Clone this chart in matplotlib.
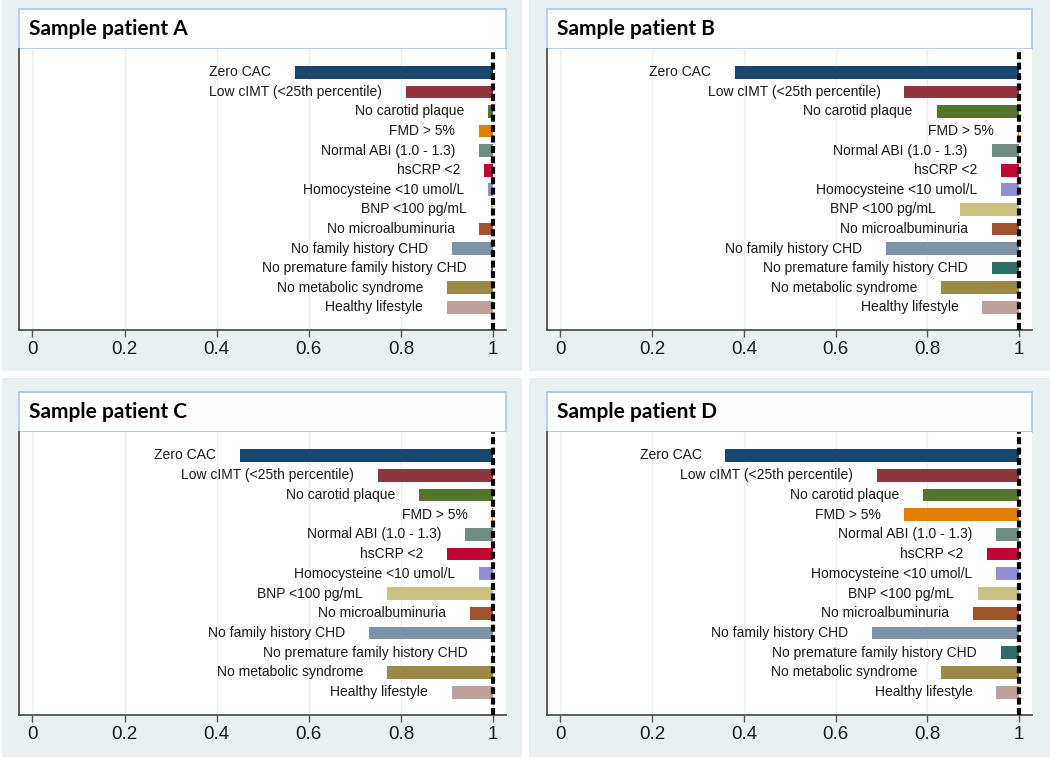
import numpy as np
import matplotlib.pyplot as plt
from matplotlib.patches import Rectangle

plt.rcParams['font.family'] = ['Liberation Sans', 'DejaVu Sans']
plt.rcParams['lines.scale_dashes'] = False

categories = ["Zero CAC", "Low cIMT (<25th percentile)", "No carotid plaque", "FMD > 5%",
              "Normal ABI (1.0 - 1.3)", "hsCRP <2", "Homocysteine <10 umol/L", "BNP <100 pg/mL",
              "No microalbuminuria", "No family history CHD", "No premature family history CHD",
              "No metabolic syndrome", "Healthy lifestyle"]

patient_a = [0.57, 0.81, 0.99, 0.97, 0.97, 0.98, 0.99, 0.995, 0.97, 0.91, 0.995, 0.90, 0.90]
patient_b = [0.38, 0.75, 0.82, 0.997, 0.94, 0.96, 0.96, 0.87, 0.94, 0.71, 0.94, 0.83, 0.92]
patient_c = [0.45, 0.75, 0.84, 0.997, 0.94, 0.90, 0.97, 0.77, 0.95, 0.73, 0.997, 0.77, 0.91]
patient_d = [0.36, 0.69, 0.79, 0.75, 0.95, 0.93, 0.95, 0.91, 0.90, 0.68, 0.96, 0.83, 0.95]

titles = ["Sample patient A", "Sample patient B", "Sample patient C", "Sample patient D"]
xticks = [0, 0.2, 0.4, 0.6, 0.8, 1]
xticklabels = ["0", "0.2", "0.4", "0.6", "0.8", "1"]

colors = ["#1a476f", "#90353b", "#55752f", "#e37e00", "#6e8e84", "#c10534", "#938dd2",
          "#cac27e", "#a0522d", "#7b92a8", "#2d6d66", "#9c8847", "#bfa19c"]

W, H = 1050, 759
fig = plt.figure(figsize=(W / 100, H / 100), dpi=100)
fig.patch.set_facecolor('white')

def fbox(x0, y0, x1, y1):
    # pixel box (top-left origin) -> figure coords [left, bottom, width, height]
    return [x0 / W, 1 - y1 / H, (x1 - x0) / W, (y1 - y0) / H]

# panel background, title box, plot area (pixels)
panels = [
    ((2, 0, 522, 371), (19, 9, 506, 49), (19, 49, 506, 330)),
    ((529, 0, 1050, 371), (547, 9, 1032, 49), (547, 49, 1032, 330)),
    ((2, 378, 522, 757), (19, 392, 506, 432), (19, 432, 506, 715)),
    ((529, 378, 1050, 757), (547, 392, 1032, 432), (547, 432, 1032, 715)),
]
values = [patient_a, patient_b, patient_c, patient_d]

for (bg, tb, pa), vals, title in zip(panels, values, titles):
    l, b, w, h = fbox(*bg)
    fig.patches.append(Rectangle((l, b), w, h, transform=fig.transFigure,
                                 facecolor='#e9f0f2', edgecolor='none', zorder=-2))
    l, b, w, h = fbox(*tb)
    fig.patches.append(Rectangle((l, b), w, h, transform=fig.transFigure,
                                 facecolor='white', edgecolor='#a6c9e8', lw=1.2, zorder=-1))
    fig.text(l + 10 / W, b + h / 2, title, fontsize=15, fontweight='bold',
             family='Lato', va='center', ha='left', color='black')

    ax = fig.add_axes(fbox(*pa))
    ax.set_facecolor('white')
    y = np.arange(len(categories))
    v = np.array(vals)
    ax.barh(y, 1 - v, left=v, height=0.65, color=colors, zorder=2)
    for yi, vi, lab in zip(y, v, categories):
        ax.text(vi - 0.052, yi, lab, ha='right', va='center', fontsize=10, color='#1a1a1a', zorder=3)
    ax.axvline(1, color='black', lw=3, dashes=(5, 2.5), zorder=4)

    ax.set_xlim(-0.029, 1.028)
    ax.set_ylim(13.16, -1.19)
    ax.set_xticks(xticks)
    ax.set_xticklabels(xticklabels)
    ax.set_yticks([])
    ax.tick_params(axis='x', length=5, width=1, color='#555555', labelsize=13.5,
                   labelcolor='#1a1a1a', pad=3)
    ax.xaxis.grid(True, color='#e8f0f2', lw=1, zorder=0)
    ax.set_axisbelow(True)
    for s in ['top', 'right']:
        ax.spines[s].set_visible(False)
    for s in ['left', 'bottom']:
        ax.spines[s].set_color('#444444')
        ax.spines[s].set_linewidth(1.2)

fig.savefig('out.png', dpi=100)
